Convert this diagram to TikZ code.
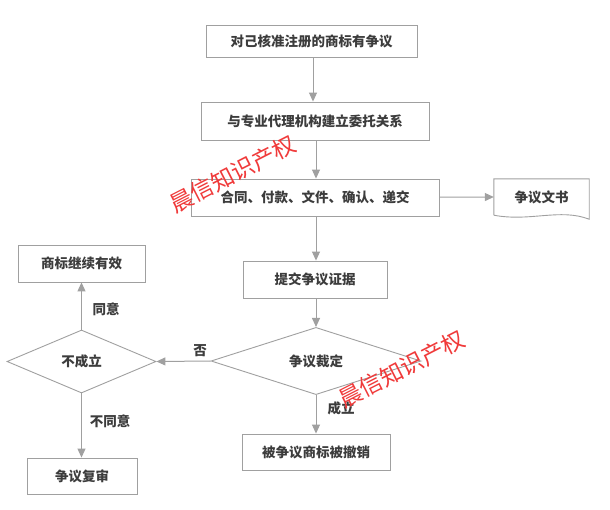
\documentclass[tikz,border=0pt]{standalone}
\usepackage{fontspec}
\newfontfamily\cjk{Noto Sans CJK SC}
\usetikzlibrary{shapes.geometric,arrows.meta}
\definecolor{linegray}{HTML}{A0A0A0}
\definecolor{txtgray}{HTML}{3C3C3C}
\definecolor{wmred}{HTML}{F03A3A}
\begin{document}
\begin{tikzpicture}[x=1pt,y=-1pt,
  box/.style={draw=linegray,line width=0.9pt,fill=white,inner sep=0pt,text=txtgray,font=\cjk\bfseries\fontsize{13.5}{15}\selectfont},
  dia/.style={diamond,draw=linegray,line width=0.9pt,inner sep=0pt,text=txtgray,font=\cjk\bfseries\fontsize{13.5}{15}\selectfont},
  lbl/.style={text=txtgray,inner sep=0pt,font=\cjk\bfseries\fontsize{13.5}{15}\selectfont},
  arr/.style={draw=linegray,line width=1pt,-{Triangle[length=9pt,width=8pt]}},
  wm/.style={text=wmred,inner sep=0pt,rotate=27,font=\cjk\fontsize{23}{23}\selectfont}]
\fill[white] (0,0) rectangle (610,509);
\useasboundingbox (0,0) rectangle (610,509);
% main column
\node[box,minimum width=211pt,minimum height=32pt] (b1) at (311.5,41) {对己核准注册的商标有争议};
\node[box,minimum width=228pt,minimum height=38pt] (b2) at (315,121) {与专业代理机构建立委托关系};
\node[box,minimum width=248pt,minimum height=37pt] (b3) at (315,197.5) {合同、付款、文件、确认、递交};
\node[box,minimum width=144pt,minimum height=37pt] (b4) at (315,279.5) {提交争议证据};
\node[dia,minimum width=210pt,minimum height=57pt] (d1) at (316,361) {争议裁定};
\node[box,minimum width=148pt,minimum height=36pt] (b5) at (316,452) {被争议商标被撤销};
% document
\node[lbl,minimum width=95pt,minimum height=36pt] (doc) at (541.5,197) {争议文书};
\draw[linegray,line width=0.9pt] (doc.south west) -- (doc.north west) -- (doc.north east) -- ([yshift=-4pt]doc.south east)
  .. controls (560,208) and (530,222) .. (doc.south west);
% left column
\node[dia,minimum width=149pt,minimum height=63pt] (d2) at (81.5,361.5) {不成立};
\node[box,minimum width=127pt,minimum height=37pt] (b6) at (81.5,263.5) {商标继续有效};
\node[box,minimum width=110pt,minimum height=36pt] (b7) at (82,476) {争议复审};
% connectors
\draw[arr] (b1.south -| 313,0) -- (b2.north -| 313,0);
\draw[arr] (b2.south -| 316,0) -- (b3.north -| 316,0);
\draw[arr] (b3) -- (doc.west);
\draw[arr] (b3.south -| 316,0) -- (b4.north -| 316,0);
\draw[arr] (b4.south -| 316,0) -- (d1.north);
\draw[arr] (d1.south) -- (b5.north -| d1.south);
\draw[arr] (d1.west) -- (d2.east);
\draw[arr] (d2.north) -- (b6.south);
\draw[arr] (d2.south) -- (b7.north -| d2.south);
% labels
\node[lbl] (l1) at (106,309) {同意};
\node[lbl] (l2) at (200,351) {否};
\node[lbl] (l3) at (110,421) {不同意};
\node[lbl] (l4) at (341,408) {成立};
% watermarks
\node[wm] (w1) at (233,174) {晨信知识产权};
\node[wm] (w2) at (402,369) {晨信知识产权};
\end{tikzpicture}
\end{document}
